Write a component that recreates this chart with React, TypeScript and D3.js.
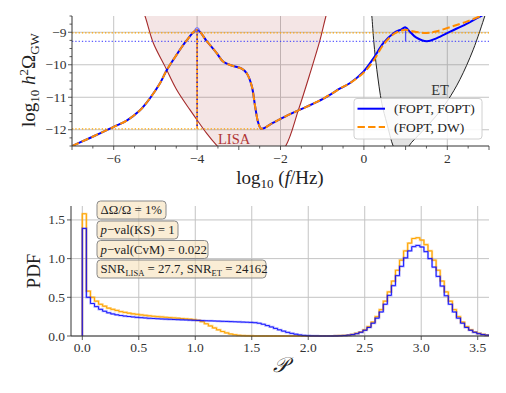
import React from "react";
import * as d3 from "d3";

// ---------- data: top panel ----------
const topXTicks = [-6, -4, -2, 0, 2];
const topYTicks = [-9, -10, -11, -12];

const curveLogF = [-7.0, -6.65, -6.33, -6.0, -5.69, -5.37, -5.13, -4.89, -4.73, -4.49, -4.25, -4.0, -3.77, -3.53, -3.37, -3.13, -2.93, -2.81, -2.69, -2.61, -2.53, -2.46, -2.17, -1.77, -1.37, -0.97, -0.57, -0.33, -0.01, 0.22, 0.47, 0.71, 0.9, 1.0, 1.1, 1.25, 1.51, 1.75, 2.07, 2.45, 2.84, 3.05];
const foptFopt = [-12.5, -12.3, -12.11, -11.91, -11.72, -11.4, -11.03, -10.57, -10.17, -9.69, -9.25, -8.93, -9.27, -9.64, -9.91, -10.04, -10.12, -10.26, -10.65, -11.27, -11.8, -11.97, -11.78, -11.52, -11.29, -11.04, -10.73, -10.56, -10.21, -9.82, -9.33, -9.03, -8.91, -8.85, -8.98, -9.16, -9.28, -9.18, -8.98, -8.75, -8.48, -8.36];
const foptDw = [-12.5, -12.3, -12.11, -11.91, -11.72, -11.4, -11.03, -10.57, -10.17, -9.69, -9.25, -8.93, -9.27, -9.64, -9.91, -10.04, -10.12, -10.26, -10.65, -11.27, -11.8, -11.97, -11.78, -11.52, -11.29, -11.04, -10.73, -10.56, -10.25, -9.9, -9.38, -9.06, -8.95, -8.92, -8.95, -8.99, -9.02, -8.97, -8.84, -8.68, -8.48, -8.38];

const lisaLogF = [-5.35, -5.25, -5.05, -4.77, -4.49, -4.17, -4.0, -3.77, -3.53, -3.2, -2.7, -2.2, -1.89, -1.57, -1.29, -1.05, -0.91, -0.85];
const lisaLogOmega = [-8.2, -8.5, -9.33, -10.05, -10.77, -11.39, -11.7, -12.11, -12.48, -12.9, -13.1, -12.9, -12.53, -11.39, -10.26, -9.23, -8.5, -8.25];

const etLogF = [0.17, 0.19, 0.24, 0.31, 0.43, 0.55, 0.71, 0.85, 1.0, 1.08, 1.4, 1.75, 2.02, 2.3, 2.62, 2.9, 2.95];
const etLogOmega = [-8.3, -8.5, -9.33, -10.15, -11.19, -11.8, -12.53, -12.85, -12.8, -12.5, -12.05, -11.55, -11.08, -10.46, -9.54, -8.5, -8.3];

const peakA = { f: -4.0, hi: -8.93, lo: -11.97 };
const peakB = { f: 1.0, hi: -8.85, lo: -9.28 };
const levelOrangeHi = -9.02;
const levelBlueHi = -9.28;
const levelOrangeLo = -11.97;
const levelOrangeLoEnd = -2.46;

const legendLabels = ["(FOPT, FOPT)", "(FOPT, DW)"];

// ---------- data: bottom panel ----------
const binStart = 0;
const binWidth = 0.036;
const histFoptFopt = [1.39, 0.5, 0.42, 0.38, 0.345, 0.32, 0.3, 0.285, 0.274, 0.265, 0.258, 0.252, 0.246, 0.241, 0.237, 0.233, 0.229, 0.226, 0.223, 0.22, 0.218, 0.216, 0.213, 0.211, 0.209, 0.207, 0.205, 0.203, 0.201, 0.199, 0.197, 0.196, 0.194, 0.192, 0.19, 0.188, 0.186, 0.184, 0.182, 0.18, 0.178, 0.176, 0.172, 0.165, 0.152, 0.135, 0.117, 0.098, 0.08, 0.063, 0.047, 0.034, 0.023, 0.014, 0.008, 0.004, 0.002, 0.001, 0, 0, 0, 0, 0.001, 0.003, 0.006, 0.011, 0.018, 0.03, 0.048, 0.074, 0.11, 0.165, 0.23, 0.31, 0.41, 0.525, 0.65, 0.78, 0.9, 1.01, 1.1, 1.155, 1.17, 1.15, 1.09, 1.0, 0.89, 0.77, 0.645, 0.52, 0.41, 0.31, 0.23, 0.165, 0.11, 0.074, 0.048, 0.03, 0.018, 0.011];
const histFoptDw = [1.58, 0.58, 0.5, 0.45, 0.41, 0.385, 0.36, 0.345, 0.33, 0.315, 0.305, 0.295, 0.287, 0.28, 0.273, 0.267, 0.261, 0.255, 0.25, 0.246, 0.242, 0.238, 0.234, 0.23, 0.226, 0.222, 0.217, 0.211, 0.203, 0.185, 0.158, 0.13, 0.104, 0.08, 0.058, 0.04, 0.026, 0.016, 0.009, 0.004, 0.002, 0.001, 0, 0, 0, 0, 0, 0, 0, 0, 0, 0, 0, 0, 0, 0, 0, 0, 0, 0, 0, 0, 0.002, 0.004, 0.007, 0.012, 0.02, 0.034, 0.052, 0.08, 0.12, 0.18, 0.25, 0.34, 0.45, 0.57, 0.71, 0.85, 0.98, 1.1, 1.2, 1.26, 1.27, 1.24, 1.18, 1.1, 0.98, 0.85, 0.71, 0.57, 0.45, 0.34, 0.25, 0.18, 0.12, 0.08, 0.052, 0.034, 0.02, 0.012];
const botXTicks = [0, 0.5, 1.0, 1.5, 2.0, 2.5, 3.0, 3.5];
const botYTicks = [0, 0.5, 1.0, 1.5];

const FONT = "'Liberation Serif', 'DejaVu Serif', serif";
const BLUE = "#0000ff";
const ORANGE = "#ff8c00";
const HORANGE = "#ffa500";
const GRID = "#c4c4c4";
const AX = "#333";

const fmtTick = (v: number, d = 0) => (v < 0 ? "\u2212" : "") + Math.abs(v).toFixed(d);

export default function App() {
  // top scales
  const tx = d3.scaleLinear().domain([-7, 3]).range([72, 489]);
  const ty = d3.scaleLinear().domain([-12.5, -8.5]).range([146, 16]);
  // bottom scales
  const bx = d3.scaleLinear().domain([-0.1, 3.6]).range([71, 489]);
  const by = d3.scaleLinear().domain([0, 1.68]).range([336, 206]);

  const cr = d3.curveCatmullRom.alpha(0.5);
  const mkLine = (xs: number[], ys: number[]) =>
    d3.line<number>().x((_, i) => tx(xs[i])).y((_, i) => ty(ys[i])).curve(cr)(xs) || "";
  const mkArea = (xs: number[], ys: number[]) =>
    d3.area<number>().x((_, i) => tx(xs[i])).y0(() => ty(-7.5)).y1((_, i) => ty(ys[i])).curve(cr)(xs) || "";

  const topMinorX = d3.range(-7, 3.01, 0.5);
  const topMinorY = d3.range(-12.5, -8.49, 0.25);

  const histPath = (vals: number[]) => {
    const pts: [number, number][] = [[binStart, 0]];
    vals.forEach((v, i) => {
      pts.push([binStart + i * binWidth, v]);
      pts.push([binStart + (i + 1) * binWidth, v]);
    });
    pts.push([binStart + vals.length * binWidth, 0]);
    return d3.line<[number, number]>().x((d) => bx(d[0])).y((d) => by(d[1]))(pts) || "";
  };

  const boxes = [
    { w: 69, content: (<><tspan>ΔΩ/Ω = 1%</tspan></>) },
    { w: 81, content: (<><tspan fontStyle="italic">p</tspan><tspan>−val(KS) = 1</tspan></>) },
    { w: 111, content: (<><tspan fontStyle="italic">p</tspan><tspan>−val(CvM) = 0.022</tspan></>) },
    {
      w: 169,
      content: (
        <>
          <tspan>SNR</tspan>
          <tspan fontSize="8.5" dy="3">LISA</tspan>
          <tspan dy="-3"> = 27.7, SNR</tspan>
          <tspan fontSize="8.5" dy="3">ET</tspan>
          <tspan dy="-3"> = 24162</tspan>
        </>
      ),
    },
  ];
  const boxTops = [201, 221, 240.5, 260];

  return (
    <svg width={506} height={393} style={{ display: "block", position: "absolute", left: 0, top: 0, fontFamily: FONT }} fontFamily={FONT}>
      <style>{`text, tspan { font-family: 'Liberation Serif', 'DejaVu Serif', serif; }`}</style>
      <rect width={506} height={393} fill="#fff" />
      <defs>
        <clipPath id="clipTop">
          <rect x={72} y={16} width={417} height={130} />
        </clipPath>
        <clipPath id="clipBot">
          <rect x={71} y={200} width={418} height={137} />
        </clipPath>
      </defs>

      {/* ---------------- TOP PANEL ---------------- */}
      <g>
        {topXTicks.map((t) => (
          <line key={"gx" + t} x1={tx(t)} x2={tx(t)} y1={16} y2={146} stroke={GRID} strokeWidth={1} />
        ))}
        {topYTicks.map((t) => (
          <line key={"gy" + t} x1={72} x2={489} y1={ty(t)} y2={ty(t)} stroke={GRID} strokeWidth={1} />
        ))}
        <g clipPath="url(#clipTop)">
          <path d={mkArea(lisaLogF, lisaLogOmega)} fill="#a52a2a" fillOpacity={0.12} stroke="none" />
          <path d={mkLine(lisaLogF, lisaLogOmega)} fill="none" stroke="#a52a2a" strokeWidth={1.1} />
          <path d={mkArea(etLogF, etLogOmega)} fill="#808080" fillOpacity={0.22} stroke="none" />
          <path d={mkLine(etLogF, etLogOmega)} fill="none" stroke="#222" strokeWidth={1} />

          {/* reference levels */}
          <line x1={tx(-7)} x2={tx(3)} y1={ty(levelOrangeHi)} y2={ty(levelOrangeHi)} stroke={HORANGE} strokeWidth={1.3} strokeDasharray="1.3,2" />
          <line x1={tx(-7)} x2={tx(3)} y1={ty(levelBlueHi)} y2={ty(levelBlueHi)} stroke="#2a2aff" strokeWidth={1.3} strokeDasharray="1.3,2" opacity={0.75} />
          <line x1={tx(-7)} x2={tx(levelOrangeLoEnd)} y1={ty(levelOrangeLo)} y2={ty(levelOrangeLo)} stroke={HORANGE} strokeWidth={1.3} strokeDasharray="1.3,2" />
          <line x1={tx(peakA.f)} x2={tx(peakA.f)} y1={ty(peakA.hi)} y2={ty(peakA.lo)} stroke={ORANGE} strokeWidth={1.5} />
          <line x1={tx(peakA.f)} x2={tx(peakA.f)} y1={ty(peakA.hi)} y2={ty(peakA.lo)} stroke={BLUE} strokeWidth={1.3} strokeDasharray="1.3,3" />
          <line x1={tx(peakB.f)} x2={tx(peakB.f)} y1={ty(peakB.hi)} y2={ty(peakB.lo)} stroke="#2a2aff" strokeWidth={1.3} opacity={0.8} />

          <path d={mkLine(curveLogF, foptFopt)} fill="none" stroke={BLUE} strokeWidth={2} />
          <path d={mkLine(curveLogF, foptDw)} fill="none" stroke={ORANGE} strokeWidth={2} strokeDasharray="7.4,3.2" />
          <circle cx={tx(peakA.f)} cy={ty(peakA.hi)} r={2.2} fill="none" stroke="#6060ff" strokeWidth={1} />
        </g>

        <text x={218} y={144} fontSize={14.5} fill="#b03535">LISA</text>
        <text x={440} y={94.5} fontSize={14.5} fill="#333" textAnchor="middle">ET</text>

        {/* axes */}
        <line x1={72} x2={72} y1={16} y2={146} stroke={AX} strokeWidth={1} />
        <line x1={72} x2={489} y1={146} y2={146} stroke={AX} strokeWidth={1} />
        {topMinorX.map((t) => {
          const major = Math.abs(t - Math.round(t)) < 1e-6;
          return <line key={"mx" + t} x1={tx(t)} x2={tx(t)} y1={146} y2={146 + (major ? 4 : 2.5)} stroke={AX} strokeWidth={0.8} />;
        })}
        {topMinorY.map((t) => {
          const major = Math.abs(t - Math.round(t)) < 1e-6;
          return <line key={"my" + t} x1={72 - (major ? 4 : 2.5)} x2={72} y1={ty(t)} y2={ty(t)} stroke={AX} strokeWidth={0.8} />;
        })}
        {topXTicks.map((t) => (
          <text key={"lx" + t} x={tx(t)} y={162.5} fontSize={13.5} textAnchor="middle" fill={AX}>{fmtTick(t)}</text>
        ))}
        {topYTicks.map((t) => (
          <text key={"ly" + t} x={66.5} y={ty(t) + 4.5} fontSize={13.5} textAnchor="end" fill={AX}>{fmtTick(t)}</text>
        ))}

        {/* legend */}
        <rect x={354} y={98.5} width={128} height={40.5} rx={3} fill="#fff" fillOpacity={0.85} stroke="#d0d0d0" strokeWidth={1} />
        <line x1={357.5} x2={385} y1={108.7} y2={108.7} stroke={BLUE} strokeWidth={2} />
        <line x1={357.5} x2={385} y1={127} y2={127} stroke={ORANGE} strokeWidth={2} strokeDasharray="7.4,3.2" />
        <text x={394} y={113.2} fontSize={13.5} fill="#222">{legendLabels[0]}</text>
        <text x={394} y={131.5} fontSize={13.5} fill="#222">{legendLabels[1]}</text>

        {/* axis labels */}
        <text x={280} y={184} fontSize={19} textAnchor="middle" fill="#222">
          <tspan>log</tspan>
          <tspan fontSize={13} dy={4}>10</tspan>
          <tspan dy={-4}> (</tspan>
          <tspan fontStyle="italic">f</tspan>
          <tspan>/Hz)</tspan>
        </text>
        <text transform="translate(35,80) rotate(-90)" fontSize={19} textAnchor="middle" fill="#222">
          <tspan>log</tspan>
          <tspan fontSize={13} dy={4}>10</tspan>
          <tspan dy={-4}> </tspan>
          <tspan fontStyle="italic">h</tspan>
          <tspan fontSize={13} dy={-7}>2</tspan>
          <tspan dy={7}>Ω</tspan>
          <tspan fontSize={13} dy={4}>GW</tspan>
        </text>
      </g>

      {/* ---------------- BOTTOM PANEL ---------------- */}
      <g>
        {botXTicks.map((t) => (
          <line key={"bgx" + t} x1={bx(t)} x2={bx(t)} y1={206} y2={336} stroke={GRID} strokeWidth={1} />
        ))}
        {botYTicks.map((t) => (
          <line key={"bgy" + t} x1={71} x2={489} y1={by(t)} y2={by(t)} stroke={GRID} strokeWidth={1} />
        ))}
        <g clipPath="url(#clipBot)">
          <path d={histPath(histFoptDw)} fill="none" stroke={HORANGE} strokeWidth={2.2} strokeOpacity={0.45} />
          <path d={histPath(histFoptDw)} fill="none" stroke={HORANGE} strokeWidth={1} />
          <path d={histPath(histFoptFopt)} fill="none" stroke={BLUE} strokeWidth={2.2} strokeOpacity={0.3} />
          <path d={histPath(histFoptFopt)} fill="none" stroke={BLUE} strokeWidth={1} strokeOpacity={0.85} />
        </g>

        {/* text boxes */}
        {boxes.map((b, i) => (
          <g key={"box" + i}>
            <rect x={97} y={boxTops[i]} width={b.w} height={18} rx={3.5} fill="#f5deb3" fillOpacity={0.55} stroke="#8a8a8a" strokeWidth={1} />
            <text x={100.5} y={boxTops[i] + 13.3} fontSize={12.8} fill="#222">{b.content}</text>
          </g>
        ))}

        <line x1={71} x2={71} y1={206} y2={336} stroke={AX} strokeWidth={1} />
        <line x1={71} x2={489} y1={336} y2={336} stroke={AX} strokeWidth={1.2} />
        {botXTicks.map((t) => (
          <g key={"bx" + t}>
            <line x1={bx(t)} x2={bx(t)} y1={336} y2={340} stroke={AX} strokeWidth={0.8} />
            <text x={bx(t)} y={351.5} fontSize={13.5} textAnchor="middle" fill={AX}>{t.toFixed(1)}</text>
          </g>
        ))}
        {botYTicks.map((t) => (
          <g key={"by" + t}>
            <line x1={67} x2={71} y1={by(t)} y2={by(t)} stroke={AX} strokeWidth={0.8} />
            <text x={65} y={by(t) + 4.5} fontSize={13.5} textAnchor="end" fill={AX}>{t.toFixed(1)}</text>
          </g>
        ))}
        <text transform="translate(40,271) rotate(-90)" fontSize={19} textAnchor="middle" fill="#222">PDF</text>
        <text x={280} y={372} fontSize={21} textAnchor="middle" fill="#222" fontStyle="italic">𝒫</text>
      </g>
    </svg>
  );
}
